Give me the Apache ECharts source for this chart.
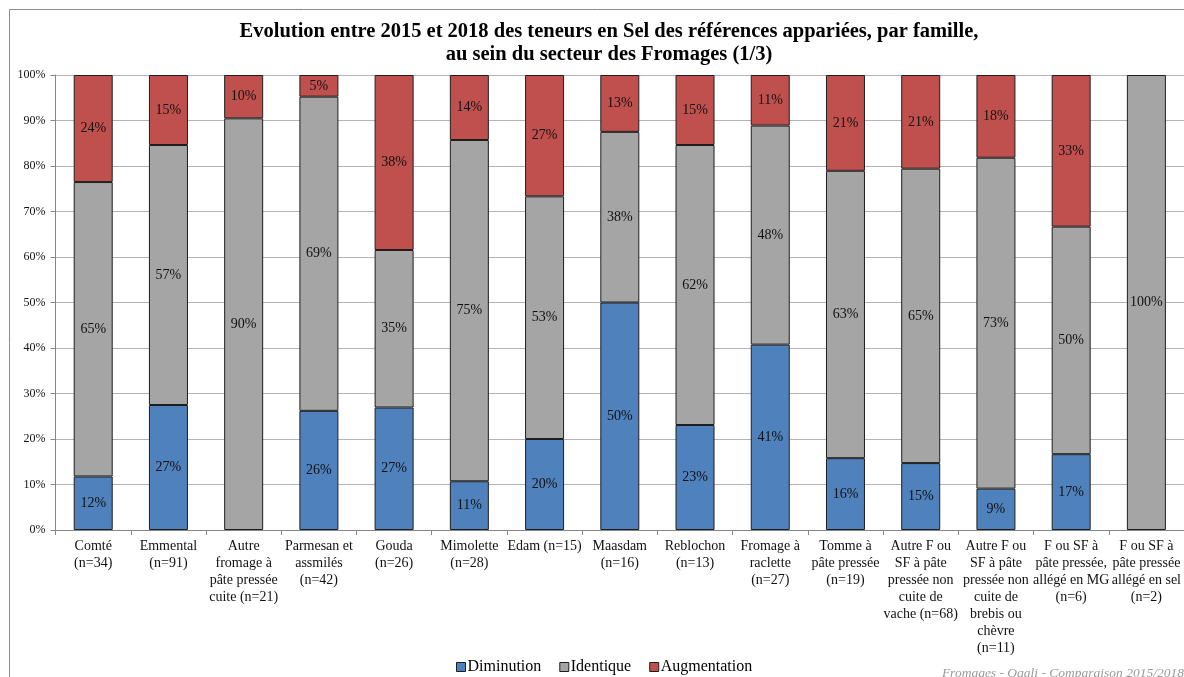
<!DOCTYPE html>
<html>
<head>
<meta charset="utf-8">
<script src="https://cdn.jsdelivr.net/npm/echarts@6/dist/echarts.min.js"></script>
<style>
  html, body { margin: 0; padding: 0; background: #fff; }
  #chart { width: 1184px; height: 677px; }
</style>
</head>
<body>
<div id="chart"></div>
<script>
// Cheese families (sample size in brackets)
const categories = [
  'Comté\n(n=34)',
  'Emmental\n(n=91)',
  'Autre\nfromage à\npâte pressée\ncuite (n=21)',
  'Parmesan et\nassmilés\n(n=42)',
  'Gouda\n(n=26)',
  'Mimolette\n(n=28)',
  'Edam (n=15)',
  'Maasdam\n(n=16)',
  'Reblochon\n(n=13)',
  'Fromage à\nraclette\n(n=27)',
  'Tomme à\npâte pressée\n(n=19)',
  'Autre F ou\nSF à pâte\npressée non\ncuite de\nvache (n=68)',
  'Autre F ou\nSF à pâte\npressée non\ncuite de\nbrebis ou\nchèvre\n(n=11)',
  'F ou SF à\npâte pressée,\nallégé en MG\n(n=6)',
  'F ou SF à\npâte pressée\nallégé en sel\n(n=2)'
];

// Number of matched references per family and per salt trend
const totals       = [34, 91, 21, 42, 26, 28, 15, 16, 13, 27, 19, 68, 11, 6, 2];
const diminution   = [4, 25, 0, 11, 7, 3, 3, 8, 3, 11, 3, 10, 1, 1, 0];
const identique    = [22, 52, 19, 29, 9, 21, 8, 6, 8, 13, 12, 44, 8, 3, 2];
const augmentation = [8, 14, 2, 2, 10, 4, 4, 2, 2, 3, 4, 14, 2, 2, 0];

const yTicks = { min: 0, max: 100, interval: 10 };

// Share of each trend within its family, in percent (empty groups drawn as no bar)
const share = counts => counts.map((c, i) => c > 0 ? c / totals[i] * 100 : '-');

const serif = '"Liberation Serif", "Times New Roman", serif';

const chart = echarts.init(document.getElementById('chart'), null, { renderer: 'canvas' });

function barSeries(name, counts, color) {
  return {
    name: name,
    type: 'bar',
    stack: 'total',
    barWidth: 39,
    data: share(counts),
    itemStyle: { color: color, borderColor: '#1e1e1e', borderWidth: 1 },
    label: {
      show: true,
      position: 'inside',
      fontFamily: serif,
      fontSize: 14,
      color: '#111',
      formatter: p => Math.round(p.value) + '%'
    },
    emphasis: { disabled: true }
  };
}

chart.setOption({
  animation: false,
  backgroundColor: '#fff',
  title: {
    text: 'Evolution entre 2015 et 2018 des teneurs en Sel des références appariées, par famille,\nau sein du secteur des Fromages (1/3)',
    left: 604,
    top: 15,
    textAlign: 'center',
    textStyle: {
      fontFamily: serif,
      fontWeight: 'bold',
      fontSize: 20.5,
      lineHeight: 23,
      color: '#000'
    }
  },
  legend: {
    data: ['Diminution', 'Identique', 'Augmentation'],
    left: 451,
    top: 654,
    itemWidth: 9,
    itemHeight: 9,
    itemGap: 18,
    icon: 'rect',
    textStyle: { fontFamily: serif, fontSize: 16, color: '#000', padding: [0, 0, 0, -3] },
    itemStyle: { borderColor: '#1e1e1e', borderWidth: 1 }
  },
  grid: { left: 55.6, top: 75, width: 1131.6, height: 455, containLabel: false },
  xAxis: {
    type: 'category',
    data: categories,
    axisLine: { lineStyle: { color: '#868686' } },
    axisTick: { show: true, length: 5, lineStyle: { color: '#868686' } },
    axisLabel: {
      interval: 0,
      margin: 8,
      fontFamily: serif,
      fontSize: 14,
      lineHeight: 17,
      color: '#111'
    }
  },
  yAxis: {
    type: 'value',
    min: yTicks.min,
    max: yTicks.max,
    interval: yTicks.interval,
    axisLine: { show: true, lineStyle: { color: '#868686' } },
    axisTick: { show: true, length: 5, lineStyle: { color: '#868686' } },
    axisLabel: {
      formatter: '{value}%',
      fontFamily: serif,
      fontSize: 12,
      color: '#111',
      margin: 10
    },
    splitLine: { lineStyle: { color: '#b4b4b4' } }
  },
  graphic: [
    {
      type: 'rect',
      shape: { x: 9.5, y: 9.5, width: 1200, height: 700 },
      style: { fill: 'none', stroke: '#8c8c8c', lineWidth: 1 },
      z: 100,
      silent: true
    },
    {
      type: 'text',
      right: 0,
      top: 666,
      style: {
        text: 'Fromages - Oqali - Comparaison 2015/2018',
        font: 'italic 13.5px ' + serif,
        fill: '#9a9a9a'
      },
      silent: true
    }
  ],
  series: [
    barSeries('Diminution', diminution, '#4f81bd'),
    barSeries('Identique', identique, '#a5a5a5'),
    barSeries('Augmentation', augmentation, '#c0504d')
  ]
});
</script>
</body>
</html>
